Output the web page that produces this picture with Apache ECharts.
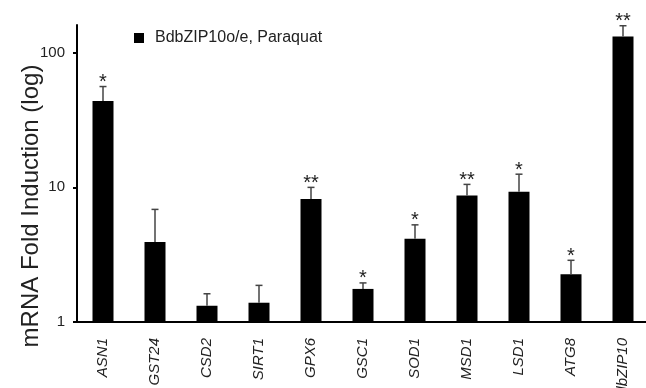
<!DOCTYPE html>
<html>
<head>
<meta charset="utf-8">
<script src="https://cdn.jsdelivr.net/npm/echarts@6/dist/echarts.min.js"></script>
<style>
html,body{margin:0;padding:0;background:#fff;}
#chart{width:646px;height:388px;}
</style>
</head>
<body>
<div id="chart"></div>
<script>
const categories = ['ASN1','GST24','CSD2','SIRT1','GPX6','GSC1','SOD1','MSD1','LSD1','ATG8','BdbZIP10'];
const means = [43.7, 3.93, 1.32, 1.39, 8.17, 1.76, 4.14, 8.7, 9.26, 2.26, 131.5];
const errTop = [55.9, 6.85, 1.62, 1.87, 9.98, 1.95, 5.26, 10.5, 12.5, 2.87, 158];
const stars = ['*', '', '', '', '**', '*', '*', '**', '*', '*', '**'];
const yTicks = [1, 10, 100];
const seriesName = 'BdbZIP10o/e, Paraquat';
const yTitle = 'mRNA Fold Induction (log)';

const FONT = 'Liberation Sans, Arial, sans-serif';
const chart = echarts.init(document.getElementById('chart'), null, {renderer: 'canvas'});

chart.setOption({
  animation: false,
  backgroundColor: '#fff',
  grid: {left: 77, top: 25, width: 572, bottom: 66, containLabel: false, outerBoundsMode: 'none'},
  legend: {
    data: [seriesName],
    left: 129, top: 25,
    icon: 'rect', itemWidth: 10, itemHeight: 10,
    textStyle: {fontFamily: FONT, fontSize: 16, color: '#222', padding: [0, 0, 0, 6]}
  },
  graphic: [{
    type: 'text',
    x: 31, y: 206, rotation: Math.PI / 2,
    style: {text: yTitle, font: '24px ' + FONT, fill: '#222', align: 'center', verticalAlign: 'middle'}
  }],
  xAxis: {
    type: 'category',
    data: categories,
    axisLine: {lineStyle: {color: '#000', width: 2}},
    axisTick: {length: 4, lineStyle: {color: '#000', width: 2}},
    axisLabel: {rotate: 90, margin: 16, fontFamily: FONT, fontSize: 15, fontStyle: 'italic', color: '#222'}
  },
  yAxis: {
    type: 'log', logBase: 10, min: 1, max: 160,
    splitLine: {show: false},
    axisLine: {show: true, lineStyle: {color: '#000', width: 2}},
    axisTick: {show: true, length: 4, lineStyle: {color: '#000', width: 2}, customValues: yTicks},
    axisLabel: {fontFamily: FONT, fontSize: 15, color: '#222', margin: 12, customValues: yTicks}
  },
  series: [{
    name: seriesName,
    type: 'bar',
    data: means,
    barWidth: 21,
    itemStyle: {color: '#000'}
  }, {
    type: 'custom',
    data: categories.map((c, i) => [i, means[i], errTop[i]]),
    z: 5,
    renderItem: function (params, api) {
      const i = api.value(0);
      const p0 = api.coord([i, api.value(1)]);
      const p1 = api.coord([i, api.value(2)]);
      const s = stars[params.dataIndex];
      const children = [
        {type: 'line', shape: {x1: p0[0], y1: p0[1], x2: p1[0], y2: p1[1]}, style: {stroke: '#444', lineWidth: 1.5}},
        {type: 'line', shape: {x1: p1[0] - 3.5, y1: p1[1], x2: p1[0] + 3.5, y2: p1[1]}, style: {stroke: '#444', lineWidth: 1.5}}
      ];
      if (s) {
        children.push({type: 'text', x: p1[0], y: p1[1] - 14,
          style: {text: s, font: '20px ' + FONT, fill: '#222', align: 'center', verticalAlign: 'top'}});
      }
      return {type: 'group', children: children};
    }
  }]
});
</script>
</body>
</html>
